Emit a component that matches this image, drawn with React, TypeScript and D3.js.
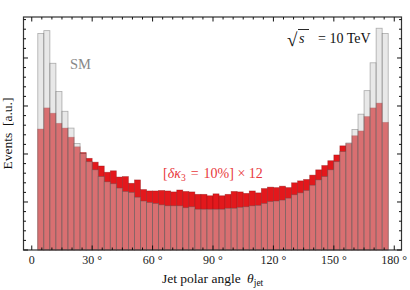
import * as d3 from 'd3'
import React from 'react'

// histogram bins (degrees)
const binStart = 3
const binWidth = 3

// SM distribution (grey), arbitrary units
const smValues = [
  4.51, 4.57, 3.89, 3.30, 2.89, 2.54, 2.22, 2.01, 1.84, 1.67,
  1.53, 1.42, 1.38, 1.29, 1.22, 1.20, 1.10, 1.02, 0.99, 0.97,
  0.94, 0.92, 0.92, 0.92, 0.88, 0.90, 0.85, 0.85, 0.85, 0.85,
  0.85, 0.87, 0.87, 0.89, 0.90, 0.92, 0.93, 0.97, 1.01, 1.02,
  1.04, 1.08, 1.15, 1.19, 1.24, 1.35, 1.46, 1.53, 1.67, 1.84,
  2.05, 2.23, 2.51, 2.83, 3.32, 3.90, 4.62, 4.51,
]

// [dk3 = 10%] x 12 distribution (red)
const bsmValues = [
  2.52, 2.96, 2.85, 2.64, 2.54, 2.35, 2.15, 2.03, 1.91, 1.83,
  1.75, 1.62, 1.65, 1.52, 1.53, 1.39, 1.46, 1.26, 1.23, 1.23,
  1.24, 1.23, 1.21, 1.25, 1.22, 1.21, 1.16, 1.16, 1.13, 1.17,
  1.13, 1.16, 1.22, 1.21, 1.18, 1.23, 1.19, 1.28, 1.31, 1.30,
  1.33, 1.30, 1.40, 1.44, 1.47, 1.56, 1.67, 1.76, 1.86, 1.98,
  2.17, 2.22, 2.38, 2.48, 2.78, 2.96, 3.06, 2.66,
]

const xTicks = [0, 30, 60, 90, 120, 150, 180]
const xTickLabels = ['0', '30 °', '60 °', '90 °', '120 °', '150 °', '180 °']

const font = '"Liberation Serif", "DejaVu Serif", serif'

export default function App() {
  const
    left = 23.5, right = 401.5, top = 17, bottom = 250,
    x = d3.scaleLinear().domain([-4.1, 183.6]).range([left, right]),
    y = d3.scaleLinear().domain([0, 4.854]).range([bottom, top]),
    xMinor = d3.range(0, 181, 5),
    yMinor = d3.range(0, 4.85, 0.2)

  const isMajorX = (v: number) => v % 30 === 0
  const isMajorY = (v: number) => Math.abs(v - Math.round(v)) < 1e-6

  return (
    <svg width={410} height={290} style={{ position: 'absolute', left: 0, top: 0, fontFamily: font }}>
      <rect width={410} height={290} fill='#fff' />
      {/* red histogram */}
      {bsmValues.map((v, i) => {
        const x0 = x(binStart + i * binWidth), x1 = x(binStart + (i + 1) * binWidth)
        return <rect key={'r' + i} x={x0} y={y(v)} width={x1 - x0} height={bottom - y(v)}
          fill='#e3181c' stroke='#8a1010' strokeOpacity={0.5} strokeWidth={0.7} />
      })}
      {/* SM histogram, translucent grey */}
      {smValues.map((v, i) => {
        const x0 = x(binStart + i * binWidth), x1 = x(binStart + (i + 1) * binWidth)
        return <rect key={'s' + i} x={x0} y={y(v)} width={x1 - x0} height={bottom - y(v)}
          fill='rgb(207,207,207)' fillOpacity={0.48} stroke='#555' strokeOpacity={0.45} strokeWidth={0.8} />
      })}

      {/* frame */}
      <rect x={left} y={top} width={right - left} height={bottom - top} fill='none' stroke='#333' strokeWidth={1.2} />

      {/* x ticks bottom / top */}
      {xMinor.map(v => {
        const len = isMajorX(v) ? 4.5 : 2.5
        return (
          <g key={'xt' + v} stroke='#111' strokeWidth={1}>
            <line x1={x(v)} x2={x(v)} y1={bottom} y2={bottom - len} />
            <line x1={x(v)} x2={x(v)} y1={top} y2={top + len} />
          </g>
        )
      })}
      {/* y ticks left / right */}
      {yMinor.map(v => {
        const len = isMajorY(v) ? 4.5 : 2.5
        return (
          <g key={'yt' + v} stroke='#111' strokeWidth={1}>
            <line x1={left} x2={left + len} y1={y(v)} y2={y(v)} />
            <line x1={right} x2={right - len} y1={y(v)} y2={y(v)} />
          </g>
        )
      })}

      {/* x tick labels */}
      {xTicks.map((v, i) => (
        <text key={'xl' + v} x={x(v)} y={264} textAnchor='middle' fontSize={12} fill='#222'>{xTickLabels[i]}</text>
      ))}

      {/* axis labels */}
      <text x={162} y={283} fontSize={13.5} fill='#111'>
        Jet polar angle <tspan dx={3} fontStyle='italic'>θ</tspan>
        <tspan fontSize={9.5} dy={3}>jet</tspan>
      </text>
      <text transform={`translate(12,${(top + bottom) / 2}) rotate(-90)`} textAnchor='middle' fontSize={13.5} fill='#111'>
        {'Events\u2002[a.u.]'}
      </text>

      {/* annotations */}
      <text x={80.5} y={68.5} textAnchor='middle' fontSize={14.5} fill='#888'>SM</text>

      <g fill='#111'>
        <text x={287} y={46} fontSize={19}>√</text>
        <line x1={298} x2={309} y1={29.5} y2={29.5} stroke='#111' strokeWidth={0.9} />
        <text x={299} y={43} fontSize={14} fontStyle='italic'>s</text>
        <text x={318} y={43} fontSize={14}>= 10 TeV</text>
      </g>

      <text x={163} y={177.5} fontSize={14} fill='#e8383c'>
        [<tspan fontStyle='italic'>δκ</tspan>
        <tspan fontSize={9.5} dy={3}>3</tspan>
        <tspan dy={-3} dx={5}>=</tspan>
        <tspan dx={5}>10%] × 12</tspan>
      </text>
    </svg>
  )
}
